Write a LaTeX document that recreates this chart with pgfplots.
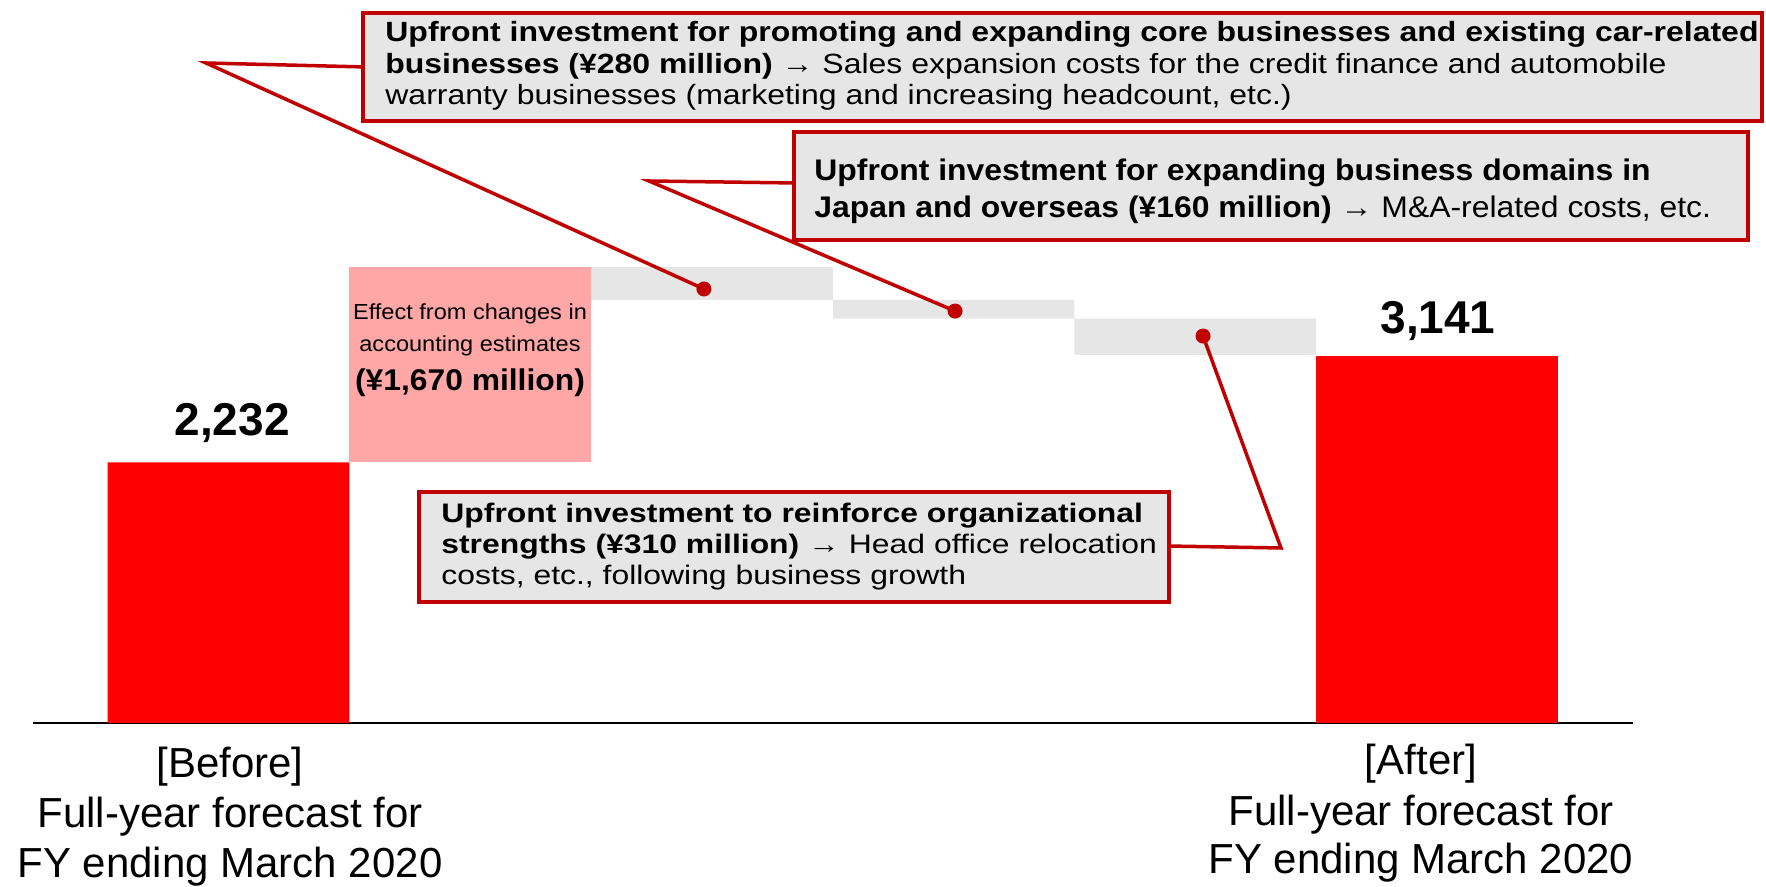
\documentclass[border=0pt]{standalone}
\usepackage{pgfplots}
\pgfplotsset{compat=1.18}
\usepackage{fontspec}
\setmainfont{Liberation Sans}
\newfontfamily\fA[FakeStretch=1.15]{Liberation Sans}
\newfontfamily\fB[FakeStretch=1.07]{Liberation Sans}
\newfontfamily\fC[FakeStretch=1.19]{Liberation Sans}
\newfontfamily\fP[FakeStretch=1.08]{Liberation Sans}
\newfontfamily\fQ[FakeStretch=1.06]{Liberation Sans}
\definecolor{dred}{HTML}{C00000}
\definecolor{bred}{HTML}{FF0000}
\definecolor{mypink}{HTML}{FFA6A6}
\definecolor{lgray}{HTML}{E6E6E6}
\begin{document}
\begin{tikzpicture}
\begin{axis}[
  at={(0,0)}, anchor=south west,
  scale only axis, width=883bp, height=443.5bp,
  xmin=-0.9454, xmax=6.3612, ymin=-1404.1, ymax=6190.1,
  hide axis, ybar stacked, bar width=1, clip=false]
% invisible offsets of the floating bars
\addplot[draw=none, fill=none] coordinates {(0,0) (1,2232) (2,3622) (3,3462) (4,3152) (5,0)};
% totals
\addplot[draw=none, fill=bred] coordinates {(0,2232) (1,0) (2,0) (3,0) (4,0) (5,3141)};
% accounting estimate effect
\addplot[draw=none, fill=mypink] coordinates {(0,0) (1,1670) (2,0) (3,0) (4,0) (5,0)};
% upfront investments
\addplot[draw=none, fill=lgray] coordinates {(0,0) (1,0) (2,280) (3,160) (4,310) (5,0)};
\draw[black, line width=1bp] (axis cs:-0.809,0) -- (axis cs:5.811,0);
\node[anchor=base, inner sep=0, font=\bfseries\fontsize{23bp}{28bp}\selectfont] at (axis cs:0.015,2232) [yshift=13.5bp] {2,232};
\node[anchor=base, inner sep=0, font=\bfseries\fontsize{23bp}{28bp}\selectfont] at (axis cs:5.004,3141) [yshift=11.5bp] {3,141};
\coordinate (d1) at (axis cs:1.967,3716);
\coordinate (d2) at (axis cs:3.006,3527);
\coordinate (d3) at (axis cs:4.032,3313);
\end{axis}
\begin{scope}[x=0.5bp, y=-0.5bp, yshift=443.5bp]
  % leader lines
  \draw[dred, line width=1.75bp, line join=miter] (366,67) -- (206,63) -- (d1);
  \draw[dred, line width=1.75bp, line join=miter] (796,183) -- (649,181) -- (d2);
  \draw[dred, line width=1.75bp, line join=miter] (d3) -- (1281,548) -- (1166,546);
  \fill[dred] (d1) circle (3.75bp);
  \fill[dred] (d2) circle (3.75bp);
  \fill[dred] (d3) circle (3.75bp);
  % boxes
  \draw[dred, line width=2bp, fill=lgray] (363,13) rectangle (1762,121);
  \draw[dred, line width=2bp, fill=lgray] (794,132) rectangle (1748,240);
  \draw[dred, line width=2bp, fill=lgray] (419,492) rectangle (1169,602);
  % box 1 text
  \begin{scope}[every node/.style={anchor=base west, inner sep=0, font=\fA\fontsize{13.9bp}{16bp}\selectfont}]
    \node at (385,42) {\bfseries Upfront investment for promoting and expanding core businesses and existing car-related};
    \node at (385,74) {\textbf{businesses (¥280 million)} → Sales expansion costs for the credit finance and automobile};
    \node at (385,105) {warranty businesses (marketing and increasing headcount, etc.)};
  \end{scope}
  % box 2 text
  \begin{scope}[every node/.style={anchor=base west, inner sep=0, font=\fB\fontsize{14.9bp}{17bp}\selectfont}]
    \node at (814,181) {\bfseries Upfront investment for expanding business domains in};
    \node at (814,218) {\textbf{Japan and overseas (¥160 million)} → M\&A-related costs, etc.};
  \end{scope}
  % box 3 text
  \begin{scope}[every node/.style={anchor=base west, inner sep=0, font=\fC\fontsize{13.4bp}{15bp}\selectfont}]
    \node at (441,523) {\bfseries Upfront investment to reinforce organizational};
    \node at (441,554) {\textbf{strengths (¥310 million)} → Head office relocation};
    \node at (441,585) {costs, etc., following business growth};
  \end{scope}
  % text in the pink bar
  \node[anchor=base, inner sep=0, font=\fP\fontsize{10.9bp}{12bp}\selectfont] at (470,320) {Effect from changes in};
  \node[anchor=base, inner sep=0, font=\fP\fontsize{10.9bp}{12bp}\selectfont] at (470,352) {accounting estimates};
  \node[anchor=base, inner sep=0, font=\fQ\bfseries\fontsize{15bp}{17bp}\selectfont] at (470,391) {(¥1,670 million)};
  % category labels
  \begin{scope}[every node/.style={anchor=base, inner sep=0, font=\fontsize{21bp}{25bp}\selectfont}]
    \node at (230,778) {[Before]};
    \node at (230,828) {Full-year forecast for};
    \node at (230,878) {FY ending March 2020};
    \node at (1421,775) {[After]};
    \node at (1421,826) {Full-year forecast for};
    \node at (1421,874) {FY ending March 2020};
  \end{scope}
\end{scope}
\pgfresetboundingbox
\useasboundingbox (0,0) rectangle (883bp,443.5bp);
\end{tikzpicture}
\end{document}
